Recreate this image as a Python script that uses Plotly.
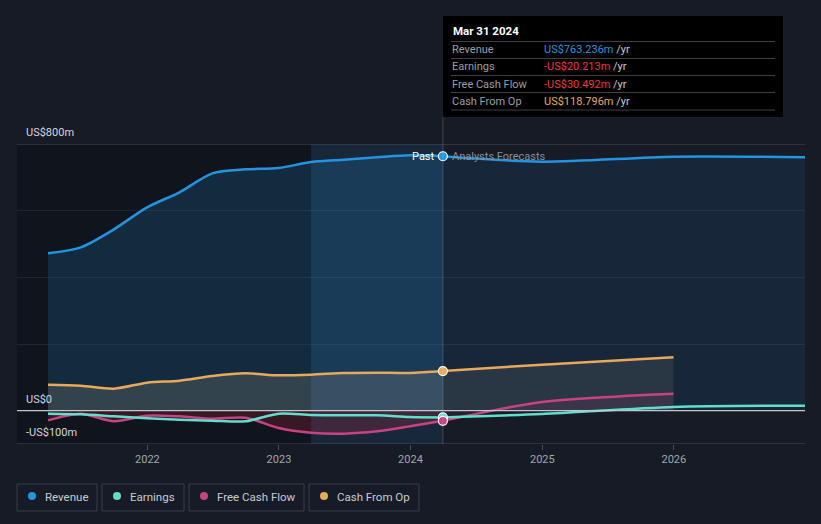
import plotly.graph_objects as go

# ---------------- data ----------------
past_dates = ["2021-03-31", "2021-06-30", "2021-09-30", "2021-12-31",
              "2022-03-31", "2022-06-30", "2022-09-30", "2022-12-31",
              "2023-03-31", "2023-06-30", "2023-09-30", "2023-12-31",
              "2024-03-31"]
revenue_past = [472, 490, 544, 610, 655, 712, 724, 728, 746, 753, 760, 766, 763.236]
earnings_past = [-9, -11, -17, -23, -27, -30, -32, -9, -13, -14, -14, -19, -20.213]
fcf_past = [-29, -9, -32, -15, -17, -24, -21, -52, -66, -69, -62, -47, -30.492]
cfo_past = [78, 75, 66, 84, 90, 104, 112, 106, 108, 113, 114, 113, 118.796]

fc_dates_long = ["2024-03-31", "2024-12-31", "2025-12-31", "2026-12-31"]
revenue_fc = [763.236, 747, 762, 760]
earnings_fc = [-20.213, -10, 11, 15]
fc_dates_short = ["2024-03-31", "2024-12-31", "2025-12-31"]
fcf_fc = [-30.492, 26, 51]
cfo_fc = [118.796, 138, 160]

year_ticks = ["2022-01-01", "2023-01-01", "2024-01-01", "2025-01-01", "2026-01-01"]
year_labels = ["2022", "2023", "2024", "2025", "2026"]

# ---------------- style ----------------
W, H = 821, 524
L, R, T, B = 17, 805, 144, 444
BG = "#161b26"
C_REV = "#2394df"
C_EARN = "#5fdfcc"
C_FCF = "#c94283"
C_CFO = "#e8a95a"


def px(x):
    return (x - L) / (R - L)


def py(y):
    return (B - y) / (B - T)


fig = go.Figure()

# Revenue
fig.add_trace(go.Scatter(x=past_dates, y=revenue_past, mode="lines",
                         line=dict(color=C_REV, width=2.5, shape="spline", smoothing=0.8),
                         fill="tozeroy", fillcolor="rgba(35,148,223,0.18)",
                         hoverinfo="skip", showlegend=False))
fig.add_trace(go.Scatter(x=fc_dates_long, y=revenue_fc, mode="lines",
                         line=dict(color=C_REV, width=2.5, shape="spline", smoothing=0.8),
                         fill="tozeroy", fillcolor="rgba(35,148,223,0.10)",
                         hoverinfo="skip", showlegend=False))
# Cash from Op
fig.add_trace(go.Scatter(x=past_dates, y=cfo_past, mode="lines",
                         line=dict(color=C_CFO, width=2.5, shape="spline", smoothing=0.8),
                         fill="tozeroy", fillcolor="rgba(210,190,160,0.17)",
                         hoverinfo="skip", showlegend=False))
fig.add_trace(go.Scatter(x=fc_dates_short, y=cfo_fc, mode="lines",
                         line=dict(color=C_CFO, width=2.5, shape="spline", smoothing=0.8),
                         fill="tozeroy", fillcolor="rgba(210,190,160,0.10)",
                         hoverinfo="skip", showlegend=False))
# Free cash flow
fig.add_trace(go.Scatter(x=past_dates, y=fcf_past, mode="lines",
                         line=dict(color=C_FCF, width=2.5, shape="spline", smoothing=0.8),
                         fill="tozeroy", fillcolor="rgba(200,40,70,0.22)",
                         hoverinfo="skip", showlegend=False))
fig.add_trace(go.Scatter(x=fc_dates_short, y=fcf_fc, mode="lines",
                         line=dict(color=C_FCF, width=2.5, shape="spline", smoothing=0.8),
                         fill="tozeroy", fillcolor="rgba(200,60,120,0.10)",
                         hoverinfo="skip", showlegend=False))
# Earnings
fig.add_trace(go.Scatter(x=past_dates, y=earnings_past, mode="lines",
                         line=dict(color=C_EARN, width=2.5, shape="spline", smoothing=0.8),
                         hoverinfo="skip", showlegend=False))
fig.add_trace(go.Scatter(x=fc_dates_long, y=earnings_fc, mode="lines",
                         line=dict(color=C_EARN, width=2.5, shape="spline", smoothing=0.8),
                         hoverinfo="skip", showlegend=False))

# Markers at the current point
for series, col in [(revenue_past, C_REV), (cfo_past, C_CFO),
                    (earnings_past, C_EARN), (fcf_past, C_FCF)]:
    fig.add_trace(go.Scatter(x=[past_dates[-1]], y=[series[-1]], mode="markers",
                             marker=dict(color=col, size=9, line=dict(color="white", width=1.2)),
                             hoverinfo="skip", showlegend=False))

shapes = []
# dark past region
shapes.append(dict(type="rect", xref="x", yref="y", x0="2021-01-04", x1="2023-03-31",
                   y0=-100, y1=800, fillcolor="#10141c", line=dict(width=0), layer="below"))
# highlighted last-year band
shapes.append(dict(type="rect", xref="x", yref="y", x0="2023-03-31", x1="2024-03-31",
                   y0=-100, y1=800, fillcolor="rgba(40,110,170,0.16)", line=dict(width=0), layer="below"))
# top and bottom lines
for yv in [800, -100]:
    shapes.append(dict(type="line", xref="paper", yref="y", x0=0, x1=1, y0=yv, y1=yv,
                       line=dict(color="#474c57", width=1.2)))
# zero line
shapes.append(dict(type="line", xref="paper", yref="y", x0=0, x1=1, y0=0, y1=0,
                   line=dict(color="#c4c7cd", width=1.3)))
# vertical line at current date
shapes.append(dict(type="line", xref="x", yref="paper", x0="2024-03-31", x1="2024-03-31",
                   y0=0, y1=py(117), line=dict(color="rgba(255,255,255,0.18)", width=1)))

# tooltip box
shapes.append(dict(type="rect", xref="paper", yref="paper", x0=px(443), x1=px(783),
                   y0=py(117), y1=py(16), fillcolor="#000000", line=dict(width=0)))
for sy in [41.5, 58.5, 75.5, 92.5, 110]:
    shapes.append(dict(type="line", xref="paper", yref="paper", x0=px(451), x1=px(775),
                       y0=py(sy), y1=py(sy), line=dict(color="#3c3f45", width=1)))

annotations = []
FONT = "Roboto, 'Noto Sans', sans-serif"
annotations.append(dict(xref="paper", yref="paper", x=px(451), y=py(31), text="<b>Mar 31 2024</b>",
                        showarrow=False, xanchor="left", yanchor="middle",
                        font=dict(color="white", size=11.5, family=FONT)))
rows = [("Revenue", "US$763.236m", C_REV, 49.5),
        ("Earnings", "-US$20.213m", "#e8393c", 66.5),
        ("Free Cash Flow", "-US$30.492m", "#e8393c", 84),
        ("Cash From Op", "US$118.796m", C_CFO, 101)]
for lab, val, col, yy in rows:
    annotations.append(dict(xref="paper", yref="paper", x=px(450), y=py(yy), text=lab,
                            showarrow=False, xanchor="left", yanchor="middle",
                            font=dict(color="#9a9ea6", size=11, family=FONT)))
    annotations.append(dict(xref="paper", yref="paper", x=px(542), y=py(yy),
                            text=f"<span style='color:{col}'>{val}</span> <span style='color:#c8cbd0'>/yr</span>",
                            showarrow=False, xanchor="left", yanchor="middle",
                            font=dict(size=11, family=FONT)))

# y labels
for txt, yy in [("US$800m", 132), ("US$0", 399), ("-US$100m", 432)]:
    annotations.append(dict(xref="paper", yref="paper", x=px(24), y=py(yy), text=txt,
                            showarrow=False, xanchor="left", yanchor="middle",
                            font=dict(color="#d4d7dc", size=11, family=FONT)))

annotations.append(dict(xref="paper", yref="paper", x=px(437), y=py(156), text="Past",
                        showarrow=False, xanchor="right", yanchor="middle",
                        font=dict(color="white", size=11, family=FONT)))
annotations.append(dict(xref="paper", yref="paper", x=px(450), y=py(156), text="Analysts Forecasts",
                        showarrow=False, xanchor="left", yanchor="middle",
                        font=dict(color="#8a8f99", size=11, family=FONT)))

# legend
legend_items = [("Revenue", C_REV, 17, 97), ("Earnings", C_EARN, 102, 184),
                ("Free Cash Flow", C_FCF, 189, 304), ("Cash From Op", C_CFO, 309, 419)]
for name, col, x0, x1 in legend_items:
    shapes.append(dict(type="rect", xref="paper", yref="paper", x0=px(x0), x1=px(x1),
                       y0=py(511), y1=py(484), line=dict(color="#3a3f4a", width=1),
                       fillcolor="rgba(0,0,0,0)"))
    shapes.append(dict(type="circle", xref="paper", yref="paper", x0=px(x0 + 11), x1=px(x0 + 19),
                       y0=py(500), y1=py(492), fillcolor=col, line=dict(width=0)))
    annotations.append(dict(xref="paper", yref="paper", x=px(x0 + 26), y=py(496.5), text=name,
                            showarrow=False, xanchor="left", yanchor="middle",
                            font=dict(color="#c8ccd4", size=11.5, family=FONT)))

fig.update_layout(
    width=W, height=H,
    margin=dict(l=L, r=W - R, t=T, b=H - B),
    paper_bgcolor=BG, plot_bgcolor=BG,
    shapes=shapes, annotations=annotations,
    xaxis=dict(type="date", range=["2021-01-04", "2026-12-31"],
               tickvals=year_ticks, ticktext=year_labels,
               showgrid=False, zeroline=False, showline=False,
               ticks="outside", ticklen=5, tickcolor="#474c57",
               tickfont=dict(color="#a3a8b1", size=11, family=FONT)),
    yaxis=dict(range=[-100, 800], tickvals=[200, 400, 600],
               showticklabels=False, gridcolor="rgba(255,255,255,0.07)",
               zeroline=False, showline=False),
)

fig.write_html("out.html", config={"displayModeBar": False},
               post_script="document.body.style.margin='0';document.body.style.background='#161b26';")
